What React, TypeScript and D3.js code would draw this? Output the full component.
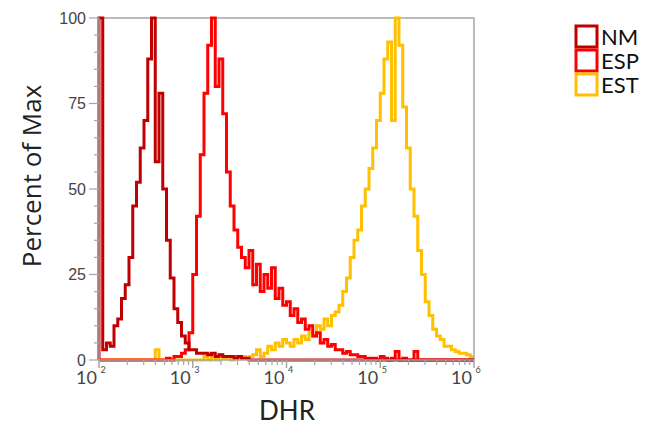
import React, { useEffect, useRef } from 'react';
import * as d3 from 'd3';

// 100 log-spaced channels from 10^2 to 10^6 (0.04 decade each)
const binCount = 100;
const binEdges = d3.range(binCount + 1).map(i => Math.pow(10, 2 + i * 0.04));

const nmValues = [
  100, 3, 5, 4, 10, 12, 18, 22, 30, 45,
  52, 62, 70, 88, 100, 58, 78, 50, 35, 24,
  15, 11, 7, 5, 3, 3, 2, 2, 2, 1.5,
  2, 1, 1.5, 1, 1, 1, 0.5, 1, 0.5, 0.5,
  0, 0, 0, 0, 0, 0, 0, 0, 0, 0,
  0, 0, 0, 0, 0, 0, 0, 0, 0, 0,
  0, 0, 0, 0, 0, 0, 0, 0, 0, 0,
  0, 0, 0, 0, 0, 0, 0, 0, 0, 0,
  0, 0, 0, 0, 0, 0, 0, 0, 0, 0,
  0, 0, 0, 0, 0, 0, 0, 0, 0, 0
];

const espValues = [
  0, 0, 0, 0, 0, 0, 0, 0, 0, 0,
  0, 0, 0, 0, 0, 0, 0, 0, 0.5, 0,
  1, 1, 2, 3, 8, 25, 42, 60, 78, 92,
  100, 80, 88, 72, 55, 45, 38, 33, 30, 27,
  32, 22, 28, 20, 25, 21, 27, 18, 21, 16,
  17, 13, 15, 11, 12, 9, 10, 7, 8, 5,
  6, 4, 4.5, 3, 3, 2, 2.5, 1.5, 1.5, 1,
  1, 0.5, 0.5, 0.5, 0, 1, 0.5, 0, 0.5, 2.5,
  0, 0.5, 0, 0, 2.5, 0, 0, 0, 0, 0,
  0, 0, 0, 0, 0, 0, 0, 0, 0, 0
];

const estValues = [
  0, 0, 0, 0, 0, 0, 0, 0, 0, 0,
  0, 0, 0, 0, 0, 3, 0, 0, 0, 0,
  0, 0, 0, 0, 0, 0, 0, 0, 1, 0,
  1, 0, 1.5, 0.5, 1, 0, 1, 0.5, 1, 0.5,
  1, 1.5, 3, 1, 2, 4, 3, 5, 4, 6,
  5, 4, 6, 5, 7, 6, 8, 7, 10, 9,
  12, 10, 13, 14, 16, 20, 24, 30, 35, 38,
  45, 50, 56, 62, 70, 78, 88, 93, 70, 100,
  92, 74, 62, 50, 42, 32, 25, 17, 13, 9,
  7, 6, 4, 4, 3, 2.5, 2, 2, 1.5, 1
];

const seriesNames = ['NM', 'ESP', 'EST'];
const seriesColors = ['#c00000', '#ff0000', '#ffc000'];

const yTicks = [0, 25, 50, 75, 100];
const xTicks = [2, 3, 4, 5, 6];

const App = () => {
  const svgRef = useRef<SVGSVGElement>(null);

  useEffect(() => {
    document.body.style.margin = '0';
    const svg = d3.select(svgRef.current);
    svg.selectAll('*').remove();

    const left = 99;
    const right = 474;
    const top = 18;
    const bottom = 360;

    const x = d3.scaleLog().domain([100, 1e6]).range([left, right]);
    const y = d3.scaleLinear().domain([0, 100]).range([bottom, top]);

    const axisColor = '#a6a6a6';

    // frame (top + right)
    svg.append('path')
      .attr('d', `M${left},${top}H${right}V${bottom}`)
      .attr('fill', 'none')
      .attr('stroke', axisColor)
      .attr('stroke-width', 1.5);

    // histograms (EST under ESP under NM)
    const line = d3.line<[number, number]>()
      .x(d => x(d[0]))
      .y(d => y(d[1]))
      .curve(d3.curveStepAfter);

    const all = [nmValues, espValues, estValues];
    [2, 1, 0].forEach(k => {
      const vals = all[k];
      const pts: [number, number][] = [[binEdges[0], 0]];
      vals.forEach((v, i) => pts.push([binEdges[i], v]));
      pts.push([binEdges[binCount], vals[binCount - 1]]);
      svg.append('path')
        .attr('d', line(pts))
        .attr('fill', 'none')
        .attr('stroke', seriesColors[k])
        .attr('stroke-width', 3);
    });

    // y axis
    const gy = svg.append('g');
    gy.append('line')
      .attr('x1', left).attr('x2', left)
      .attr('y1', top).attr('y2', bottom + 1)
      .attr('stroke', axisColor).attr('stroke-width', 1.5);
    d3.range(0, 101, 5).forEach(v => {
      const major = v % 25 === 0;
      gy.append('line')
        .attr('x1', left - (major ? 10 : 5)).attr('x2', left)
        .attr('y1', y(v)).attr('y2', y(v))
        .attr('stroke', axisColor).attr('stroke-width', 1.2);
    });
    gy.selectAll('.ylab')
      .data(yTicks)
      .enter().append('text')
      .attr('x', left - 13)
      .attr('y', d => y(d))
      .attr('dy', '0.36em')
      .attr('text-anchor', 'end')
      .style('font-family', 'Liberation Sans, Arial, sans-serif')
      .style('font-size', '16px')
      .style('fill', '#444')
      .text(d => d);

    // x axis
    const gx = svg.append('g');
    gx.append('line')
      .attr('x1', left).attr('x2', right)
      .attr('y1', bottom).attr('y2', bottom)
      .attr('stroke', axisColor).attr('stroke-width', 1.5);
    xTicks.forEach(e => {
      const xt = x(Math.pow(10, e));
      gx.append('line')
        .attr('x1', xt).attr('x2', xt)
        .attr('y1', bottom).attr('y2', bottom + 8)
        .attr('stroke', axisColor).attr('stroke-width', 1.5);
      if (e < 6) {
        d3.range(2, 10).forEach(m => {
          const xv = x(m * Math.pow(10, e));
          gx.append('line')
            .attr('x1', xv).attr('x2', xv)
            .attr('y1', bottom).attr('y2', bottom + 5)
            .attr('stroke', axisColor).attr('stroke-width', 1.2);
        });
      }
      gx.append('text')
        .attr('x', xt - 2)
        .attr('y', bottom + 24)
        .attr('text-anchor', 'end')
        .style('font-family', 'Lato, sans-serif')
        .style('font-size', '18px')
        .style('fill', '#444')
        .text('10');
      gx.append('text')
        .attr('x', xt + 1.5)
        .attr('y', bottom + 13)
        .style('font-family', 'Lato, sans-serif')
        .style('font-size', '9px')
        .style('fill', '#444')
        .text(e);
    });

    // axis titles
    svg.append('text')
      .attr('x', 287)
      .attr('y', 420)
      .attr('text-anchor', 'middle')
      .style('font-family', 'Lato, sans-serif')
      .style('font-size', '26px')
      .style('fill', '#222')
      .text('DHR');

    svg.append('text')
      .attr('transform', 'translate(41,176) rotate(-90)')
      .attr('text-anchor', 'middle')
      .style('font-family', 'Open Sans, sans-serif')
      .style('font-size', '26px')
      .style('fill', '#222')
      .text('Percent of Max');

    // legend
    const lg = svg.append('g').attr('transform', 'translate(576,26)');
    seriesNames.forEach((name, i) => {
      lg.append('rect')
        .attr('x', 0).attr('y', i * 24)
        .attr('width', 21).attr('height', 21)
        .attr('fill', 'none')
        .attr('stroke', seriesColors[i])
        .attr('stroke-width', 3);
      lg.append('text')
        .attr('x', 25).attr('y', i * 24 + 19)
        .style('font-family', 'Lato, sans-serif')
        .style('font-size', '22px')
        .style('fill', '#111')
        .text(name);
    });
  }, []);

  return <svg ref={svgRef} width={670} height={441} style={{ display: 'block' }} />;
};

export default App;
